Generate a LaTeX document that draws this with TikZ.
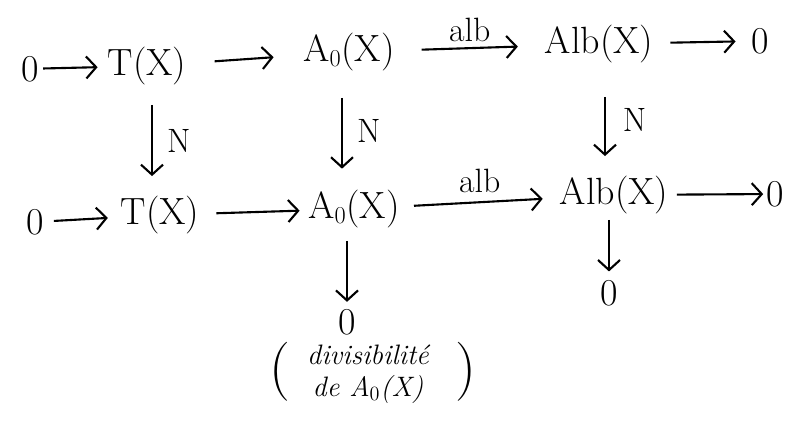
\documentclass[tikz,border=0pt]{standalone}
\usetikzlibrary{arrows.meta}

\begin{document}
\begin{tikzpicture}[
    every node/.style={font=\fontsize{27}{32}\selectfont},
    obj/.style={inner sep=2pt},
    lbl/.style={font=\fontsize{24}{28}\selectfont, inner sep=4pt},
    note/.style={font=\fontsize{20}{23}\selectfont\itshape, align=center},
    paren/.style={font=\fontsize{42}{42}\selectfont, inner sep=0pt},
    arrow/.style={line width=1.5pt, -{Straight Barb[length=2.5mm,width=5.5mm]}}
]
\useasboundingbox (0,0) rectangle (19.875,-10.675);

% top row
\node[obj] (z1) at (0.75,-1.72) {0};
\node[obj] (t1) at (3.675,-1.65) {T(X)};
\node[obj] (a1) at (8.725,-1.3) {A$_0$(X)};
\node[obj] (b1) at (14.975,-1.1) {Alb(X)};
\node[obj] (y1) at (19.0,-1.025) {0};

\draw[arrow, shorten <=1pt, shorten >=5pt] (z1) -- (t1);
\draw[arrow, shorten <=18pt, shorten >=19pt] (t1) -- (a1);
\draw[arrow, shorten <=17pt, shorten >=17pt] (a1) -- node[lbl, above] {alb} (b1);
\draw[arrow, shorten <=10pt, shorten >=9pt] (b1) -- (y1);

% bottom row
\node[obj] (z2) at (0.875,-5.55) {0};
\node[obj] (t2) at (4.0,-5.375) {T(X)};
\node[obj] (a2) at (8.85,-5.225) {A$_0$(X)};
\node[obj] (b2) at (15.35,-4.875) {Alb(X)};
\node[obj] (y2) at (19.375,-4.85) {0};

\draw[arrow, shorten <=5pt, shorten >=7pt] (z2) -- (t2);
\draw[arrow, shorten <=10pt, shorten >=4pt] (t2) -- (a2);
\draw[arrow, shorten <=8pt, shorten >=10pt] (a2) -- node[lbl, above=2pt] {alb} (b2);
\draw[arrow, shorten <=4pt] (b2) -- (y2);

% vertical maps N
\draw[arrow, shorten <=12pt, shorten >=12pt]
    ([xshift=-0.2cm]t2.north |- t1.south) -- ([xshift=-0.2cm]t2.north)
    node[lbl, midway, right=6pt] {N};
\draw[arrow, shorten <=17pt, shorten >=13pt]
    ([xshift=-0.3cm]a2.north |- a1.south) -- ([xshift=-0.3cm]a2.north)
    node[lbl, midway, right=6pt] {N};
\draw[arrow, shorten <=22pt, shorten >=12pt]
    ([xshift=-0.225cm]b2.north |- b1.south) -- ([xshift=-0.225cm]b2.north)
    node[lbl, midway, right=8pt] {N};

% cokernels
\node[obj] (c1) at (8.675,-8.05) {0};
\node[obj] (c2) at (15.225,-7.325) {0};
\draw[arrow, shorten <=7pt, shorten >=3pt] (c1 |- a2.south) -- (c1);
\draw[arrow, shorten <=2pt, shorten >=4pt] (c2 |- b2.south) -- (c2);

% remark under the cokernel
\node[note] (div) at (9.2,-9.35) {divisibilité\\de A$_0$(X)};
\node[paren] (lp) at (7.0,-9.3) {(};
\node[paren] (rp) at (11.65,-9.3) {)};

\end{tikzpicture}
\end{document}
